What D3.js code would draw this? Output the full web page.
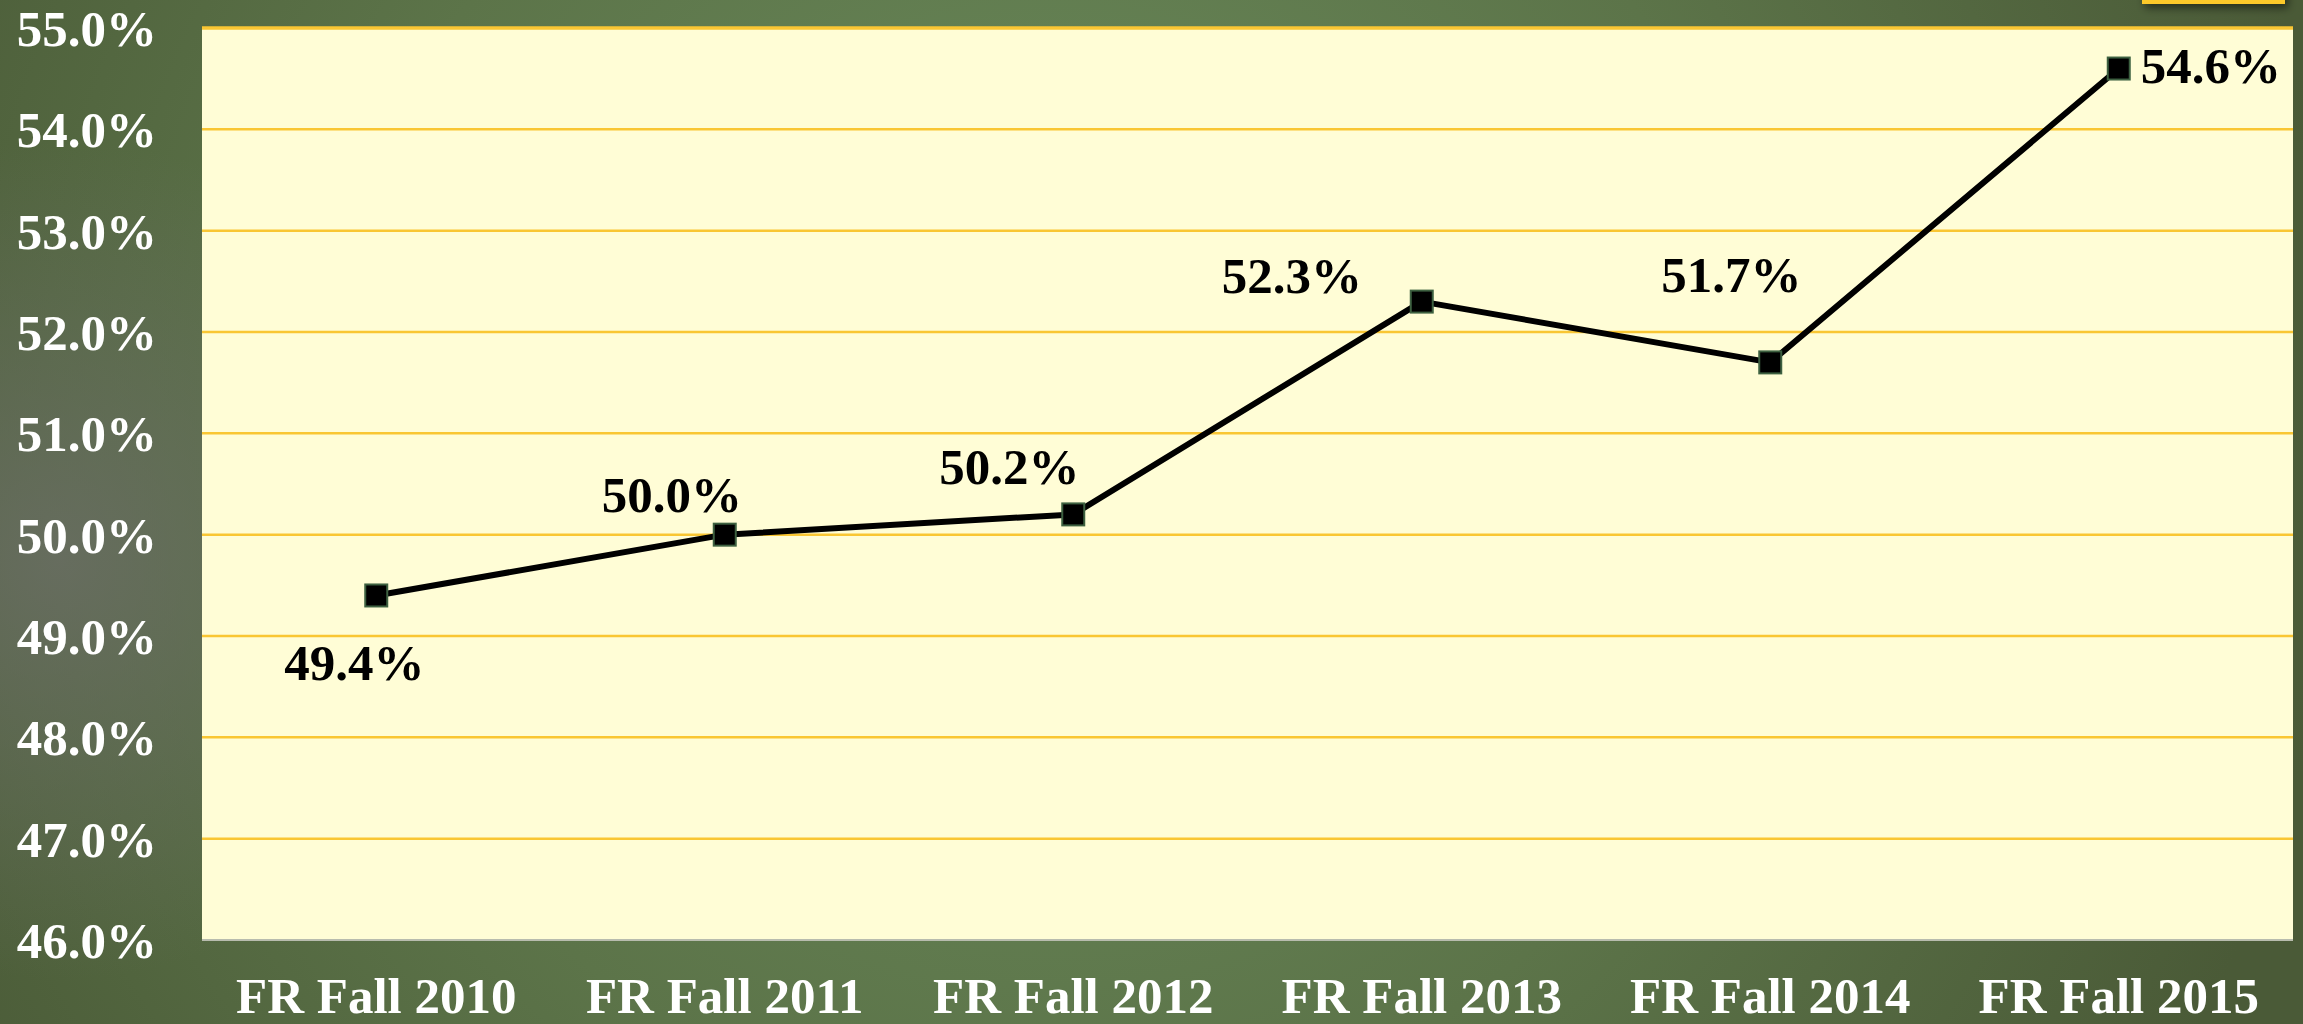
<!DOCTYPE html>
<meta charset="utf-8">
<style>
  body { margin: 0; background: #4f6040; }
  text { font-family: "Liberation Serif", "Times New Roman", serif; font-weight: bold; }
  .axis text { fill: #ffffff; font-size: 51px; }
  .label { fill: #000000; font-size: 51px; }
  .grid line { stroke: #f9c633; }
</style>
<svg width="2303" height="1024"></svg>
<script src="https://d3js.org/d3.v7.min.js"></script>
<script>

  // data
  var categories = ["FR Fall 2010", "FR Fall 2011", "FR Fall 2012", "FR Fall 2013", "FR Fall 2014", "FR Fall 2015"];
  var values = [49.4, 50.0, 50.2, 52.3, 51.7, 54.6];
  var yTicks = [46, 47, 48, 49, 50, 51, 52, 53, 54, 55];

  // where each value label sits relative to its marker
  var labelOffsets = [
    { dx: -22, dy: 85, anchor: "middle" },
    { dx: -53, dy: -23, anchor: "middle" },
    { dx: -64, dy: -30, anchor: "middle" },
    { dx: -130, dy: -9, anchor: "middle" },
    { dx: -39, dy: -70, anchor: "middle" },
    { dx: 22, dy: 14, anchor: "start" }
  ];

  var svg = d3.select("svg"),
    width = +svg.attr("width"),
    height = +svg.attr("height");

  var margin = { top: 28, right: 10, bottom: 84, left: 202 };

  // background gradients
  var defs = svg.append("defs");
  var bg = defs.append("radialGradient").attr("id", "bg")
    .attr("gradientUnits", "userSpaceOnUse")
    .attr("cx", 1050).attr("cy", 420).attr("r", 1300);
  bg.append("stop").attr("offset", "0%").attr("stop-color", "#6b8c5c");
  bg.append("stop").attr("offset", "55%").attr("stop-color", "#5c7449");
  bg.append("stop").attr("offset", "100%").attr("stop-color", "#4a5a37");

  var grey = defs.append("radialGradient").attr("id", "grey")
    .attr("gradientUnits", "userSpaceOnUse")
    .attr("cx", 60).attr("cy", 560).attr("r", 420);
  grey.append("stop").attr("offset", "0%").attr("stop-color", "#6b6e66").attr("stop-opacity", 0.8);
  grey.append("stop").attr("offset", "100%").attr("stop-color", "#6b6e66").attr("stop-opacity", 0);

  var shadow = defs.append("filter").attr("id", "shadow").attr("x", "-20%").attr("y", "-50%").attr("width", "140%").attr("height", "300%");
  shadow.append("feDropShadow").attr("dx", 3).attr("dy", 4).attr("stdDeviation", 4).attr("flood-color", "#000").attr("flood-opacity", 0.5);

  svg.append("rect").attr("width", width).attr("height", height).attr("fill", "url(#bg)");
  svg.append("rect").attr("width", width).attr("height", height).attr("fill", "url(#grey)");

  // cut off yellow box at the top right
  svg.append("rect")
    .attr("x", 2142).attr("y", -20).attr("width", 143).attr("height", 24)
    .attr("fill", "#fcc92c").attr("filter", "url(#shadow)");

  var x = d3.scaleBand()
    .domain(categories)
    .range([margin.left, width - margin.right]);

  var y = d3.scaleLinear()
    .domain([46, 55])
    .range([height - margin.bottom, margin.top]);

  // plot area
  svg.append("rect")
    .attr("x", margin.left).attr("y", margin.top)
    .attr("width", width - margin.right - margin.left)
    .attr("height", height - margin.bottom - margin.top)
    .attr("fill", "#fffdd6");

  // gridlines
  svg.append("g").attr("class", "grid")
    .selectAll("line")
    .data(yTicks.filter(function (d) { return d > 46; }))
    .enter().append("line")
    .attr("x1", margin.left).attr("x2", width - margin.right)
    .attr("y1", function (d) { return y(d); })
    .attr("y2", function (d) { return y(d); })
    .attr("stroke-width", function (d) { return d === 55 ? 3.5 : 2.5; });

  // bottom axis line
  svg.append("line")
    .attr("x1", margin.left).attr("x2", width - margin.right)
    .attr("y1", y(46)).attr("y2", y(46))
    .attr("stroke", "#b8bcae").attr("stroke-width", 2);

  // y axis
  var yAxis = svg.append("g").attr("class", "axis")
    .attr("transform", "translate(" + margin.left + ",0)")
    .call(d3.axisLeft(y).tickValues(yTicks)
      .tickFormat(function (d) { return d3.format(".1f")(d) + "%"; })
      .tickSize(0).tickPadding(45));
  yAxis.select(".domain").remove();
  yAxis.selectAll("text").attr("dy", "0.34em");

  // x axis
  var xAxis = svg.append("g").attr("class", "axis")
    .attr("transform", "translate(0," + y(46) + ")")
    .call(d3.axisBottom(x).tickSize(0).tickPadding(0));
  xAxis.select(".domain").remove();
  xAxis.selectAll("text").attr("dy", null).attr("y", 73);

  function cx(d, i) { return x(categories[i]) + x.bandwidth() / 2; }

  // line
  var line = d3.line()
    .x(function (d, i) { return cx(d, i); })
    .y(function (d) { return y(d); });

  svg.append("path")
    .datum(values)
    .attr("d", line)
    .attr("fill", "none")
    .attr("stroke", "#000")
    .attr("stroke-width", 6)
    .attr("stroke-linejoin", "round");

  // markers
  var ms = 22;
  svg.append("g")
    .selectAll("rect")
    .data(values)
    .enter().append("rect")
    .attr("x", function (d, i) { return cx(d, i) - ms / 2; })
    .attr("y", function (d) { return y(d) - ms / 2; })
    .attr("width", ms).attr("height", ms)
    .attr("fill", "#000")
    .attr("stroke", "#3d6040")
    .attr("stroke-width", 2);

  // value labels
  svg.append("g")
    .selectAll("text")
    .data(values)
    .enter().append("text")
    .attr("class", "label")
    .attr("x", function (d, i) { return cx(d, i) + labelOffsets[i].dx; })
    .attr("y", function (d, i) { return y(d) + labelOffsets[i].dy; })
    .attr("text-anchor", function (d, i) { return labelOffsets[i].anchor; })
    .text(function (d) { return d3.format(".1f")(d) + "%"; });

</script>
